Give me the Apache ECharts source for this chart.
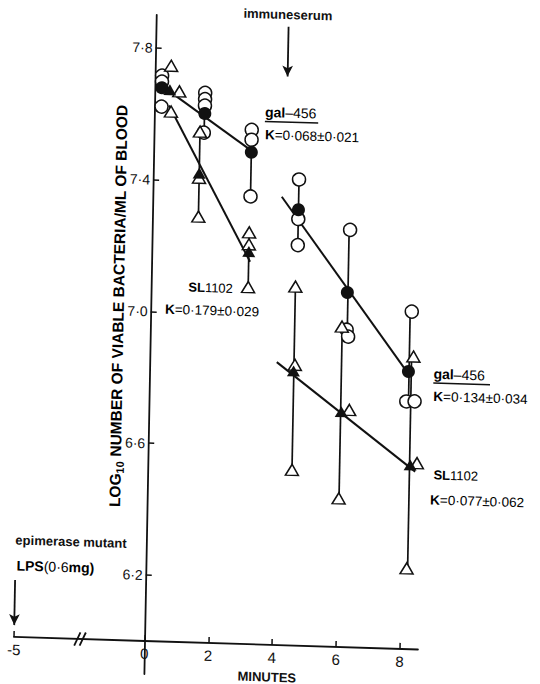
<!DOCTYPE html>
<html><head><meta charset="utf-8">
<script src="https://cdn.jsdelivr.net/npm/echarts@6/dist/echarts.min.js"></script>
<style>
html,body{margin:0;padding:0;background:#fff;}
#chart{width:540px;height:684px;background:#fff;transform-origin:144px 642px;transform:matrix(1,0.031,-0.0187,1,0,0);}
</style></head><body><div id="chart"></div>
<script>
// ---- data (minutes, log10 viable bacteria / ml blood) ----
const xTicks = [0, 2, 4, 6, 8];
const xTicksPre = [-5];
const yTicks = [6.2, 6.6, 7.0, 7.4, 7.8];

const galTimes = [0.22, 1.58, 3.06, 4.57, 6.15, 8.11];
const galMeans = [7.679, 7.605, 7.492, 7.322, 7.076, 6.842];
const slTimes  = [0.47, 1.44, 3.04, 4.51, 6.03, 8.22];
const slMeans  = [7.674, 7.424, 7.191, 6.833, 6.714, 6.559];

const galObs = [
  [0.22,7.716],[0.22,7.698],[0.22,7.622],
  [1.58,7.668],[1.58,7.649],[1.58,7.629],[1.56,7.547],
  [3.06,7.560],[3.06,7.530],[3.06,7.358],
  [4.57,7.414],[4.57,7.294],[4.57,7.215],
  [6.20,7.266],[6.15,6.963],[6.20,6.942],
  [8.18,7.024],[8.06,6.751],[8.32,6.752]
];
const slObs = [
  [0.50,7.747],[0.77,7.670],[0.52,7.608],
  [1.44,7.550],[1.44,7.410],[1.44,7.292],
  [3.04,7.249],[3.04,7.213],[3.04,7.083],
  [4.52,7.089],[4.55,6.852],[4.52,6.533],
  [6.00,6.972],[6.28,6.720],[6.00,6.451],
  [8.26,6.888],[8.43,6.565],[8.17,6.245]
];
// [time, lowest, highest]
const galRanges = [[1.57,7.547,7.668],[3.06,7.358,7.560],[4.57,7.215,7.414],[6.17,6.942,7.266],[8.13,6.751,7.024]];
const slRanges  = [[1.44,7.292,7.550],[3.04,7.083,7.249],[4.52,6.533,7.089],[6.01,6.451,6.972],[8.20,6.245,6.888]];

// fitted clearance lines (end points)
const galFitEarly = [[0.22,7.685],[3.06,7.497]];
const slFitEarly  = [[0.455,7.626],[3.085,7.160]];
const galFitLate  = [[4.04,7.360],[8.11,6.835]];
const slFitLate   = [[3.98,6.858],[8.38,6.539]];

const immuneArrow = [[4.147,7.876],[4.147,7.725]];
const lpsArrow = [[-5,6.173],[-5,6.036]];

// ---- chart ----
const INK = '#111';
const FF = '"Liberation Sans", Arial, sans-serif';
const chart = echarts.init(document.getElementById('chart'), null, {renderer:'svg'});

const gridTop = 14.76, gridH = 659.2;
const tickLbl = {color:INK, fontSize:14, fontFamily:FF};

function rangeSeries(data){
  return {
    type:'custom', xAxisIndex:0, yAxisIndex:0, z:1, silent:true,
    data: data, encode:{x:0, y:[1,2]},
    renderItem: function(params, api){
      const p1 = api.coord([api.value(0), api.value(1)]);
      const p2 = api.coord([api.value(0), api.value(2)]);
      return {type:'line', shape:{x1:p1[0],y1:p1[1],x2:p2[0],y2:p2[1]}, style:{stroke:INK, lineWidth:1.7}};
    }
  };
}
function fitSeries(data, extra){
  return Object.assign({
    type:'line', xAxisIndex:0, yAxisIndex:0, z:2, silent:true,
    data:data, symbol:'none', lineStyle:{color:INK, width:2}, animation:false
  }, extra||{});
}
const arrowMark = (pts) => ({
  silent:true, symbol:['none','arrow'], symbolSize:[8,11],
  lineStyle:{color:INK, width:1.8, type:'solid'}, label:{show:false},
  itemStyle:{color:INK},
  data:[[{coord:pts[0]},{coord:pts[1]}]]
});
const rt = (size) => ({
  b:{fontSize:size, fontWeight:'bold', fontFamily:FF, color:INK},
  r:{fontSize:size, fontFamily:FF, color:INK}
});

const option = {
  backgroundColor:'#fff',
  animation:false,
  grid:[
    {left:144.5, top:gridTop, width:273.4, height:gridH, containLabel:false, outerBoundsMode:'none'},
    {left:14, top:gridTop, width:130.5, height:gridH, containLabel:false, outerBoundsMode:'none'}
  ],
  xAxis:[
    {gridIndex:0, type:'value', min:0, max:8.57, offset:-33,
     axisLine:{onZero:false, lineStyle:{color:INK, width:1.8}},
     axisTick:{inside:true, length:6, customValues:xTicks, lineStyle:{color:INK, width:1.5}},
     axisLabel:Object.assign({customValues:xTicks, margin:5}, tickLbl, {fontSize:15}),
     splitLine:{show:false}},
    {gridIndex:1, type:'value', min:-5, max:0, offset:-33,
     axisLine:{onZero:false, lineStyle:{color:INK, width:1.8}},
     axisTick:{inside:true, length:6, customValues:xTicksPre, lineStyle:{color:INK, width:1.5}},
     axisLabel:Object.assign({customValues:xTicksPre, margin:5, formatter:v=>String(v)}, tickLbl, {fontSize:15}),
     splitLine:{show:false}}
  ],
  yAxis:[
    {gridIndex:0, type:'value', min:5.9, max:7.9,
     axisLine:{show:true, onZero:false, lineStyle:{color:INK, width:1.8}},
     axisTick:{show:true, inside:true, length:6, customValues:yTicks, lineStyle:{color:INK, width:1.5}},
     axisLabel:Object.assign({customValues:yTicks, margin:3, formatter:v=>v.toFixed(1).replace('.', '·')}, tickLbl),
     splitLine:{show:false}},
    {gridIndex:1, type:'value', min:5.9, max:7.9, show:false}
  ],
  series:[
    rangeSeries(galRanges),
    rangeSeries(slRanges),
    fitSeries(galFitEarly, {markLine: arrowMark(immuneArrow)}),
    fitSeries(slFitEarly),
    fitSeries(galFitLate),
    fitSeries(slFitLate),
    {type:'scatter', name:'gal-456 observations', xAxisIndex:0, yAxisIndex:0, z:3, data:galObs,
     symbol:'circle', symbolSize:13, itemStyle:{color:'#fff', borderColor:INK, borderWidth:1.5, opacity:1}},
    {type:'scatter', name:'SL1102 observations', xAxisIndex:0, yAxisIndex:0, z:3, data:slObs,
     symbol:'triangle', symbolSize:[13,11], itemStyle:{color:'#fff', borderColor:INK, borderWidth:1.5, opacity:1}},
    {type:'scatter', name:'gal-456 mean', xAxisIndex:0, yAxisIndex:0, z:4,
     data:galTimes.map((t,i)=>[t, galMeans[i]]),
     symbol:'circle', symbolSize:13, itemStyle:{color:INK, opacity:1}},
    {type:'scatter', name:'SL1102 mean', xAxisIndex:0, yAxisIndex:0, z:4,
     data:slTimes.map((t,i)=>[t, slMeans[i]]),
     symbol:'triangle', symbolSize:[13,11], itemStyle:{color:INK, opacity:1}},
    {type:'line', name:'LPS', xAxisIndex:1, yAxisIndex:1, data:[], symbol:'none',
     markLine: arrowMark(lpsArrow)}
  ],
  graphic:[
    {type:'text', x:112, y:306.8, rotation:Math.PI/2, silent:true,
     style:{text:'{b|LOG}{s|10}{b| NUMBER OF VIABLE BACTERIA/ML OF BLOOD}', align:'center', verticalAlign:'middle',
       rich:{b:{fontSize:15.5, fontWeight:'bold', fontFamily:FF, color:INK, lineHeight:20, verticalAlign:'middle'},
             s:{fontSize:11, fontWeight:'bold', fontFamily:FF, color:INK, lineHeight:20, verticalAlign:'bottom'}}}},
    {type:'text', x:276.1, y:10.5, silent:true,
     style:{text:'immuneserum', font:'bold 13px '+FF, fill:INK, align:'center', verticalAlign:'middle'}},
    {type:'text', x:255.1, y:108.5, silent:true,
     style:{text:'{b|gal}{r|–456}', align:'left', verticalAlign:'middle', rich:rt(14)}},
    {type:'line', silent:true, shape:{x1:255.1, y1:118, x2:308.4, y2:118}, style:{stroke:INK, lineWidth:1.5}},
    {type:'text', x:255.5, y:131.3, silent:true,
     style:{text:'{b|K}{r|=0·068±0·021}', align:'left', verticalAlign:'middle', rich:rt(13.5)}},
    {type:'text', x:181.7, y:285.9, silent:true,
     style:{text:'{b|SL}{r|1102}', align:'left', verticalAlign:'middle', rich:rt(13)}},
    {type:'text', x:158.8, y:308.7, silent:true,
     style:{text:'{b|K}{r|=0·179±0·029}', align:'left', verticalAlign:'middle', rich:rt(13.5)}},
    {type:'text', x:428.3, y:365, silent:true,
     style:{text:'{b|gal}{r|–456}', align:'left', verticalAlign:'middle', rich:rt(14)}},
    {type:'line', silent:true, shape:{x1:428.3, y1:374.3, x2:485, y2:374.3}, style:{stroke:INK, lineWidth:1.5}},
    {type:'text', x:428.7, y:387.7, silent:true,
     style:{text:'{b|K}{r|=0·134±0·034}', align:'left', verticalAlign:'middle', rich:rt(13.5)}},
    {type:'text', x:430.2, y:466, silent:true,
     style:{text:'{b|SL}{r|1102}', align:'left', verticalAlign:'middle', rich:rt(13)}},
    {type:'text', x:427.3, y:491.1, silent:true,
     style:{text:'{b|K}{r|=0·077±0·062}', align:'left', verticalAlign:'middle', rich:rt(13.5)}},
    {type:'text', x:13.6, y:544, silent:true,
     style:{text:'epimerase mutant', font:'bold 13px '+FF, fill:INK, align:'left', verticalAlign:'middle'}},
    {type:'text', x:15.2, y:569.5, silent:true,
     style:{text:'{b|LPS}{r|(0·6}{b|mg)}', align:'left', verticalAlign:'middle', rich:rt(14)}},
    {type:'text', x:267.4, y:673.2, silent:true,
     style:{text:'MINUTES', font:'bold 13px '+FF, fill:INK, align:'center', verticalAlign:'middle'}},
    // axis break marks
    {type:'line', silent:true, shape:{x1:74.3, y1:647.7, x2:80.3, y2:634.3}, style:{stroke:INK, lineWidth:1.8}},
    {type:'line', silent:true, shape:{x1:79.7, y1:647.7, x2:85.7, y2:634.3}, style:{stroke:INK, lineWidth:1.8}}
  ]
};
chart.setOption(option);
</script></body></html>
